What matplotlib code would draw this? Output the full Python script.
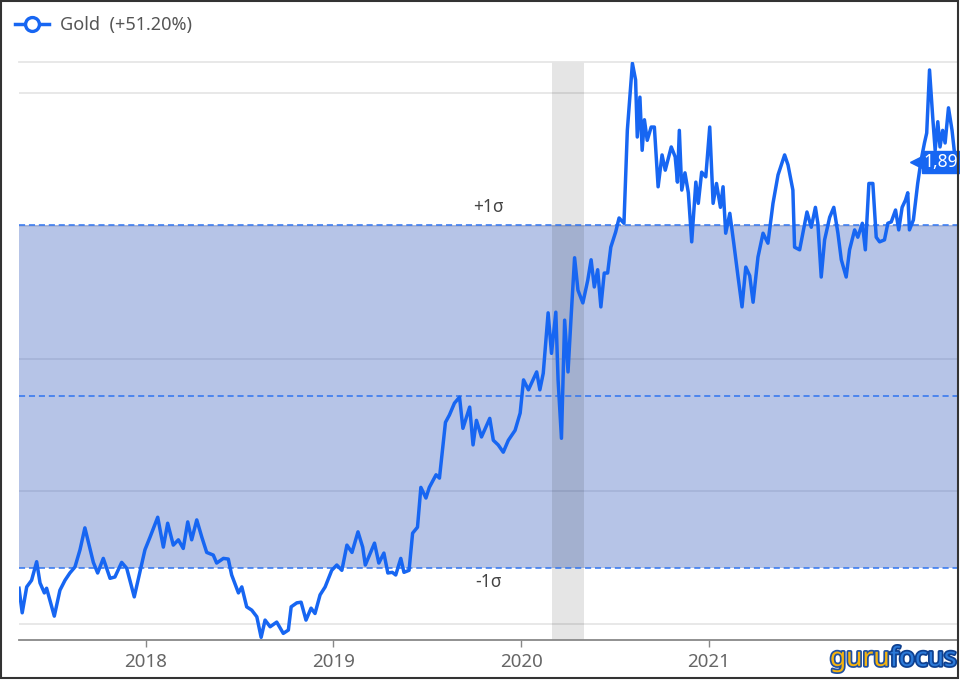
import numpy as np
import matplotlib.pyplot as plt
from matplotlib.lines import Line2D
from matplotlib.patches import Rectangle
import matplotlib.patheffects as pe

plt.rcParams['font.family'] = ['Noto Sans', 'DejaVu Sans']

# gold price (USD/oz), dates as decimal years
year17 = [2017.325, 2017.342, 2017.366, 2017.392, 2017.419, 2017.437, 2017.460, 2017.472, 2017.513, 2017.543,
          2017.570, 2017.596, 2017.623, 2017.650, 2017.676, 2017.708, 2017.721, 2017.744, 2017.774, 2017.810,
          2017.836, 2017.872, 2017.899, 2017.939, 2017.996]
gold17 = [1254, 1217, 1256, 1266, 1294, 1262, 1247, 1254, 1212, 1251,
          1266, 1277, 1286, 1312, 1345, 1308, 1293, 1277, 1299, 1269,
          1271, 1293, 1284, 1241, 1312]

year18 = [2018.023, 2018.064, 2018.094, 2018.117, 2018.147, 2018.174, 2018.200, 2018.224, 2018.245, 2018.272,
          2018.299, 2018.325, 2018.360, 2018.378, 2018.414, 2018.440, 2018.458, 2018.494, 2018.512, 2018.538,
          2018.565, 2018.592, 2018.615, 2018.636, 2018.663, 2018.698, 2018.733, 2018.760, 2018.775, 2018.805,
          2018.828, 2018.854, 2018.881, 2018.902, 2018.929, 2018.956, 2018.991]
gold18 = [1331, 1361, 1316, 1352, 1319, 1327, 1314, 1354, 1327, 1357,
          1331, 1308, 1304, 1292, 1299, 1298, 1274, 1247, 1256, 1226,
          1221, 1211, 1180, 1206, 1196, 1203, 1186, 1191, 1226, 1232,
          1233, 1206, 1224, 1216, 1244, 1256, 1281]

year19 = [2019.018, 2019.045, 2019.072, 2019.099, 2019.131, 2019.156, 2019.170, 2019.197, 2019.219, 2019.242,
          2019.269, 2019.290, 2019.314, 2019.332, 2019.359, 2019.376, 2019.403, 2019.422, 2019.448, 2019.466,
          2019.493, 2019.511, 2019.547, 2019.565, 2019.597, 2019.618, 2019.645, 2019.672, 2019.690, 2019.726,
          2019.744, 2019.762, 2019.789, 2019.833, 2019.852, 2019.878, 2019.905, 2019.932, 2019.968, 2019.995]
gold19 = [1289, 1281, 1319, 1308, 1339, 1316, 1289, 1307, 1322, 1292,
          1307, 1277, 1278, 1274, 1299, 1278, 1281, 1337, 1346, 1406,
          1390, 1406, 1425, 1420, 1504, 1515, 1533, 1542, 1495, 1527,
          1470, 1507, 1482, 1510, 1477, 1470, 1459, 1477, 1492, 1518]

year20 = [2020.013, 2020.039, 2020.083, 2020.100, 2020.118, 2020.144, 2020.162, 2020.185, 2020.197, 2020.215,
          2020.232, 2020.250, 2020.267, 2020.285, 2020.303, 2020.329, 2020.355, 2020.373, 2020.390, 2020.408,
          2020.425, 2020.443, 2020.461, 2020.478, 2020.504, 2020.522, 2020.548, 2020.566, 2020.593, 2020.610,
          2020.619, 2020.633, 2020.645, 2020.657, 2020.672, 2020.693, 2020.710, 2020.730, 2020.751, 2020.768,
          2020.800, 2020.821, 2020.833, 2020.843, 2020.856, 2020.873, 2020.891, 2020.909, 2020.931, 2020.944,
          2020.962, 2020.984]
gold20 = [1568, 1553, 1580, 1553, 1578, 1669, 1608, 1670, 1568, 1480,
          1658, 1580, 1666, 1752, 1703, 1684, 1718, 1749, 1708, 1734,
          1678, 1729, 1729, 1768, 1791, 1812, 1804, 1944, 2045, 2020,
          1934, 1994, 1914, 1960, 1929, 1949, 1949, 1859, 1907, 1884,
          1919, 1904, 1866, 1944, 1854, 1880, 1850, 1776, 1866, 1834,
          1881, 1874]

year21 = [2021.005, 2021.023, 2021.041, 2021.062, 2021.076, 2021.090, 2021.112, 2021.133, 2021.156, 2021.177,
          2021.197, 2021.218, 2021.236, 2021.262, 2021.289, 2021.315, 2021.342, 2021.369, 2021.404, 2021.422,
          2021.448, 2021.457, 2021.484, 2021.523, 2021.546, 2021.568, 2021.581, 2021.599, 2021.617, 2021.644,
          2021.666, 2021.688, 2021.706, 2021.732, 2021.750, 2021.777, 2021.794, 2021.818, 2021.834, 2021.853,
          2021.874, 2021.892, 2021.910, 2021.936, 2021.954, 2021.972, 2021.995]
gold21 = [1949, 1834, 1864, 1828, 1859, 1789, 1819, 1774, 1723, 1678,
          1738, 1725, 1685, 1753, 1789, 1774, 1834, 1877, 1907, 1892,
          1854, 1768, 1764, 1821, 1798, 1828, 1804, 1723, 1779, 1813,
          1828, 1789, 1749, 1723, 1764, 1794, 1783, 1804, 1764, 1864,
          1864, 1783, 1776, 1779, 1804, 1806, 1824]

year22 = [2022.012, 2022.030, 2022.048, 2022.060, 2022.069, 2022.090, 2022.113, 2022.131, 2022.149, 2022.161,
          2022.176, 2022.193, 2022.206, 2022.220, 2022.232, 2022.246, 2022.259, 2022.277, 2022.296, 2022.309,
          2022.319]
gold22 = [1794, 1828, 1839, 1850, 1794, 1809, 1864, 1899, 1925, 1940,
          2035, 1964, 1914, 1957, 1919, 1944, 1925, 1978, 1944, 1910,
          1896]

mean_price = 1543
sigma = 259
rec_start, rec_end = 2020.167, 2020.336
year_ticks = [2018, 2019, 2020, 2021]
grid_vals = [1200, 1400, 1600, 1800, 2000]
legend_label = 'Gold  (+51.20%)'
tag_text = '1,89'   # what shows of the last-value tag at the right edge

t = np.array(year17 + year18 + year19 + year20 + year21 + year22)
gold = np.array(gold17 + gold18 + gold19 + gold20 + gold21 + gold22)

blue = '#1766f2'

fig = plt.figure(figsize=(9.6, 6.8), dpi=100)
ax = fig.add_axes([0.0198, 0.0588, 0.977, 0.85])

for g in grid_vals:
    ax.axhline(g, color='#e6e6e6', lw=1.3, zorder=0)

ax.axhspan(mean_price - sigma, mean_price + sigma, color='#3a5fc0', alpha=0.37, lw=0, zorder=1)
ax.axvspan(rec_start, rec_end, color='black', alpha=0.1, lw=0, zorder=2)
for v in [mean_price - sigma, mean_price, mean_price + sigma]:
    ax.axhline(v, color='#2f74f0', lw=1.1, ls=(0, (4, 2.5)), zorder=3)

ax.plot(t, gold, color=blue, lw=2.5, zorder=4, solid_joinstyle='round')

ax.annotate('+1σ', xy=(0.5, mean_price + sigma), xycoords=ax.get_yaxis_transform(),
            xytext=(0, 13), textcoords='offset points', ha='center', va='center',
            fontsize=12.5, color='#444444')
ax.annotate('-1σ', xy=(0.5, mean_price - sigma), xycoords=ax.get_yaxis_transform(),
            xytext=(0, -10), textcoords='offset points', ha='center', va='center',
            fontsize=12.5, color='#444444')

# last value tag at the right edge
tr = ax.get_yaxis_transform()
ax.plot([0.9565], [gold[-1]], marker='<', ms=9, color=blue, transform=tr, zorder=6, clip_on=False)
ax.text(0.9645, gold[-1], tag_text, transform=tr, ha='left', va='center',
        fontsize=12.5, fontweight='bold', color='white', zorder=6,
        bbox=dict(boxstyle='square,pad=0.12', fc=blue, ec=blue))

ax.set_xlim(2017.325, 2022.322)
ax.set_ylim(1176, 2047)
ax.set_xticks(year_ticks)
ax.set_xticklabels([str(y) for y in year_ticks])
ax.set_yticks([])
ax.tick_params(axis='x', length=5, width=1, color='#888888', labelcolor='#666666',
               labelsize=13.5, pad=4)
for s in ['left', 'right']:
    ax.spines[s].set_visible(False)
ax.spines['top'].set_color('#e6e6e6')
ax.spines['top'].set_linewidth(1.3)
ax.spines['bottom'].set_color('#888888')
ax.spines['bottom'].set_linewidth(1.3)
ax.set_facecolor('white')

handle = Line2D([], [], color=blue, lw=2.5, marker='o', mfc='white', mec=blue, ms=10, mew=2.4)
fig.legend([handle], [legend_label], loc='center left', bbox_to_anchor=(0.006, 0.963),
           frameon=False, fontsize=13, handlelength=1.9, handletextpad=0.6, borderpad=0,
           labelcolor='#555555')

# logo
fig.text(0.927, 0.031, 'guru', ha='right', va='center', fontsize=19, fontweight='heavy',
         color='#f6b40e', path_effects=[pe.withStroke(linewidth=2.5, foreground='#1e4fa0')])
fig.text(0.927, 0.031, 'focus', ha='left', va='center', fontsize=19, fontweight='heavy',
         color='#2b79d8', path_effects=[pe.withStroke(linewidth=2.5, foreground='#0d3f8f')])

fig.add_artist(Rectangle((0.001, 0.003), 0.997, 0.995, transform=fig.transFigure,
                         fill=False, ec='#333333', lw=1.5))

fig.savefig('out.png', dpi=100)
